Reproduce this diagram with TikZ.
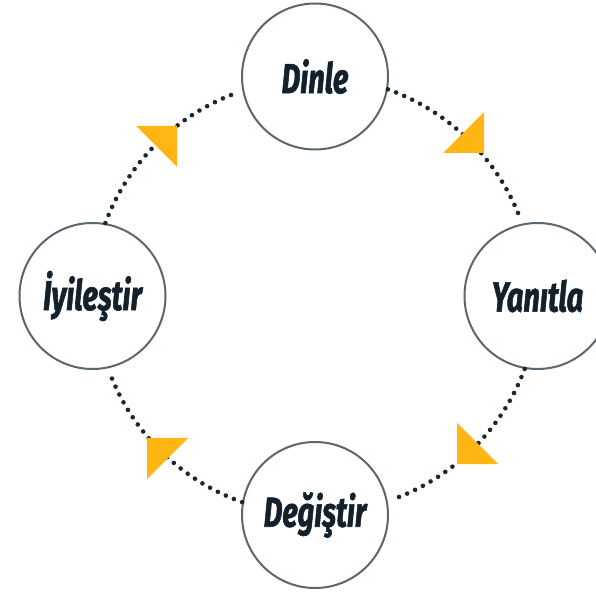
\documentclass[tikz,border=0pt]{standalone}
\usepackage{fontspec}
\newfontfamily\labfont[FakeStretch=0.69,FakeBold=1.3]{Fira Sans}
\definecolor{ringgray}{HTML}{5C6670}
\definecolor{labelink}{HTML}{14212C}
\definecolor{dotink}{HTML}{1C2630}
\definecolor{arrowyellow}{HTML}{FDB614}
\begin{document}
\begin{tikzpicture}[x=1pt,y=1pt,
  stage/.style={circle, draw=ringgray, line width=2pt, minimum size=146pt, inner sep=0pt,
    font=\labfont\bfseries\itshape\fontsize{42}{44}\selectfont, text=labelink},
  dotline/.style={draw=dotink, line width=4.6pt, line cap=round, dash pattern=on 0pt off 8.8pt},
  tri/.style={fill=arrowyellow}]
\useasboundingbox (0,0) rectangle (596,594);
\clip (0,0) rectangle (596,594);
\fill[white] (0,0) rectangle (596,594);
\node[stage] (dinle) at (315,517.5) {Dinle};
\node[stage] (yan) at (537.5,298) {Yanıtla};
\node[stage] (deg) at (315,79) {Değiştir};
\node[stage] (iyi) at (92.5,298) {İyileştir};
\draw[dotline] (iyi.80) arc[start angle=160, end angle=110, x radius=222.5, y radius=219];
\draw[dotline] (dinle.-10) arc[start angle=70, end angle=20, x radius=222.5, y radius=219];
\draw[dotline] (yan.-100) arc[start angle=-20, end angle=-70, x radius=222.5, y radius=219];
\draw[dotline] (deg.170) arc[start angle=-110, end angle=-160, x radius=222.5, y radius=219];
\fill[tri] (177,468) -- (136,468) -- (177,427) -- cycle;
\fill[tri] (484,441) -- (484,482) -- (443,441) -- cycle;
\fill[tri] (457,130) -- (457,171) -- (498,130) -- cycle;
\fill[tri] (147,156) -- (188,156) -- (147,115) -- cycle;
\end{tikzpicture}
\end{document}
